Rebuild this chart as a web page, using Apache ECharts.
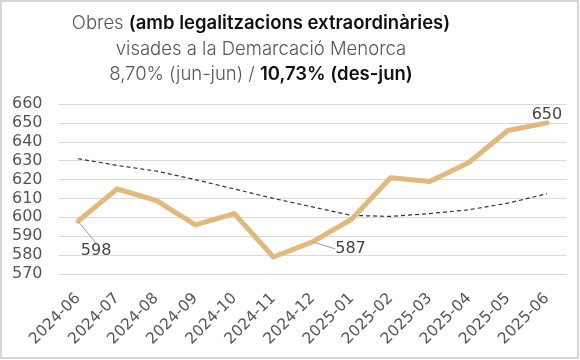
<!DOCTYPE html>
<html><head><meta charset="utf-8">
<script src="https://cdn.jsdelivr.net/npm/echarts@6/dist/echarts.min.js"></script>
<style>html,body{margin:0;padding:0;background:#fff}#c{width:580px;height:360px}</style>
</head><body><div id="c"></div>
<script>
const categories = ['2024-06','2024-07','2024-08','2024-09','2024-10','2024-11','2024-12','2025-01','2025-02','2025-03','2025-04','2025-05','2025-06'];
const obres = [598, 615, 609, 596, 602, 579, 587, 599, 621, 619, 629, 646, 650];
const trend = [631, 627.5, 624.5, 620, 615, 610, 605.5, 601, 600.5, 602, 604, 607.5, 612.5];
const yTicks = [570, 580, 590, 600, 610, 620, 630, 640, 650, 660];
const labelled = {0: 'bl', 6: 'r', 12: 't'};

const chart = echarts.init(document.getElementById('c'), null, {renderer: 'canvas'});
const FONT = 'Inter, "Open Sans", sans-serif';
const NFONT = '"DejaVu Sans", sans-serif';
const TS = 18.5, LH = 25.5;
chart.setOption({
  animation: false,
  graphic: [
    {type: 'rect', shape: {x: 1, y: 1, width: 577, height: 357}, style: {fill: 'none', stroke: '#d6d6d6', lineWidth: 2}, silent: true},
    {type: 'text', x: 261, y: 11, silent: true, style: {
      text: '{l|Obres }{b|(amb legalitzacions extraordinàries)}\n{l|visades a la Demarcació Menorca}\n{l|8,70% (jun-jun) / }{b|10,73% (des-jun)}',
      align: 'center', verticalAlign: 'top', fontFamily: FONT, fontSize: TS, lineHeight: LH,
      rich: {
        l: {fontFamily: FONT, fontSize: TS, fontWeight: 300, fill: '#555', lineHeight: LH},
        b: {fontFamily: FONT, fontSize: TS, fontWeight: 600, fill: '#111', lineHeight: LH}
      }
    }}
  ],
  grid: {left: 58.5, right: 13.5, top: 104, bottom: 86, containLabel: false},
  xAxis: {
    type: 'category', data: categories, boundaryGap: true,
    axisLine: {show: false}, axisTick: {show: false},
    axisLabel: {rotate: 45, margin: 22, fontSize: 15.5, color: '#555', fontFamily: NFONT, interval: 0}
  },
  yAxis: {
    type: 'value', min: yTicks[0], max: yTicks[yTicks.length - 1], interval: 10,
    axisLine: {show: false}, axisTick: {show: false},
    axisLabel: {fontSize: 16, color: '#555', fontFamily: NFONT, margin: 16},
    splitLine: {lineStyle: {color: '#d9d9d9', width: 1}}
  },
  series: [
    {
      type: 'line', data: trend, symbol: 'none', z: 2,
      lineStyle: {color: '#333', width: 1.2, type: [4, 3]}
    },
    {
      type: 'line', data: obres.map((v, i) => {
        const pos = labelled[i];
        if (!pos) return v;
        return {value: v, label: {show: true, position: pos === 't' ? 'top' : 'inside', distance: 0}};
      }),
      symbol: 'circle', symbolSize: 1, showSymbol: true, z: 3,
      itemStyle: {color: 'rgba(0,0,0,0)'},
      lineStyle: {color: '#E2B87B', width: 5, cap: 'round', join: 'round'},
      label: {show: false, fontSize: 16, color: '#444', fontFamily: NFONT},
      labelLine: {show: true, lineStyle: {color: '#999', width: 1}},
      labelLayout: function (p) {
        if (p.dataIndex === 0) return {dx: 18, dy: 30};
        if (p.dataIndex === 6) return {dx: 38, dy: 7};
        return {};
      }
    }
  ]
});
</script></body></html>
